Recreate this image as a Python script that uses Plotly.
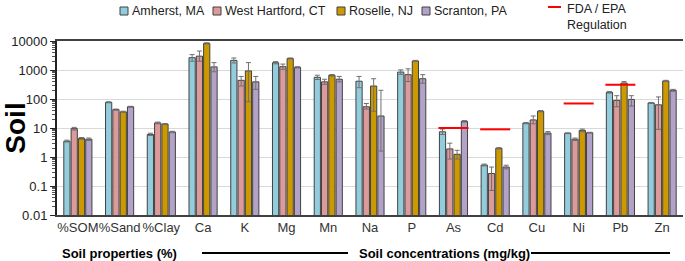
import plotly.graph_objects as go

cats = ["%SOM", "%Sand", "%Clay", "Ca", "K", "Mg", "Mn", "Na", "P", "As", "Cd", "Cu", "Ni", "Pb", "Zn"]

amherst = [3.5, 77, 6.0, 2650, 2150, 1780, 560, 410, 850, 7.4, 0.53, 14.8, 6.6, 170, 73]
amherst_hi = [3.8, 80, 6.6, 3400, 2600, 1950, 660, 600, 1010, 9.2, 0.57, 15.5, 6.8, 180, 76]
amherst_lo = [3.3, 74, 5.5, 2000, 1750, 1630, 470, 245, 710, 6.0, 0.49, 14, 6.4, 160, 70]

west_hartford = [9.5, 43, 15, 3000, 440, 1300, 390, 54, 690, 1.9, 0.27, 19, 4.1, 90, 63]
west_hartford_hi = [10.5, 45, 16, 4500, 600, 1600, 480, 70, 1100, 3.0, 0.45, 26, 4.5, 130, 118]
west_hartford_lo = [8.5, 41, 14, 2000, 280, 1050, 320, 45, 400, 0.85, 0.07, 14, 3.7, 54, 9]

roselle = [4.4, 36, 13.7, 8300, 930, 2500, 660, 280, 2050, 1.24, 2.0, 38, 8.3, 355, 420]
roselle_hi = [4.7, 38, 14.3, 8700, 1800, 2600, 700, 500, 2150, 1.7, 2.1, 40, 9.2, 400, 440]
roselle_lo = [4.1, 34, 13.1, 7900, 80, 2400, 620, 38, 1950, 0.85, 1.9, 36, 7.4, 320, 400]

scranton = [4.1, 54, 7.3, 1280, 390, 1240, 480, 26, 500, 17, 0.45, 6.7, 6.9, 97, 200]
scranton_hi = [4.5, 56, 7.7, 1800, 600, 1300, 600, 200, 690, 18, 0.52, 7.5, 7.1, 130, 215]
scranton_lo = [3.7, 52, 6.9, 870, 215, 1180, 390, 1.6, 350, 16, 0.39, 5.9, 6.7, 57, 185]

regulation = [None, None, None, None, None, None, None, None, None, 10, 9, None, 70, 310, None]

series_names = ["Amherst, MA", "West Hartford, CT", "Roselle, NJ", "Scranton, PA"]
reg_name = "FDA / EPA<br>Regulation"
colors = ["#93CDDD", "#DD9A9A", "#CC9900", "#B3A2C7"]

W, H = 685, 261
ML, MR, MT, MB = 57, 2, 41, 46
PW, PH = W - ML - MR, H - MT - MB


def px(x):
    return (x - ML) / PW


def py(y):
    return (H - MB - y) / PH


series = [
    (series_names[0], amherst, amherst_hi, amherst_lo, colors[0]),
    (series_names[1], west_hartford, west_hartford_hi, west_hartford_lo, colors[1]),
    (series_names[2], roselle, roselle_hi, roselle_lo, colors[2]),
    (series_names[3], scranton, scranton_hi, scranton_lo, colors[3]),
]

xi = list(range(len(cats)))
fig = go.Figure()
for name, v, hi, lo, col in series:
    fig.add_trace(go.Bar(
        x=xi, y=v, name=name, showlegend=False,
        marker=dict(color=col, line=dict(color="#404040", width=1)),
        error_y=dict(type="data", symmetric=False,
                     array=[h - a for h, a in zip(hi, v)],
                     arrayminus=[a - l for a, l in zip(v, lo)],
                     color="#707070", thickness=1, width=2.5),
    ))

rx, ry = [], []
for i, r in enumerate(regulation):
    if r is not None:
        rx += [i - 0.36, i + 0.36, None]
        ry += [r, r, None]
fig.add_trace(go.Scatter(x=rx, y=ry, mode="lines", name=reg_name, showlegend=False,
                         line=dict(color="#FF0000", width=2)))

fig.update_layout(
    width=W, height=H,
    margin=dict(l=ML, r=MR, t=MT, b=MB, autoexpand=False),
    paper_bgcolor="white", plot_bgcolor="white",
    font=dict(family="Liberation Sans, Arial, sans-serif", size=13, color="#222222"),
    barmode="group", bargap=0.3, bargroupgap=0.15,
    showlegend=False,
    xaxis=dict(range=[-0.5, len(cats) - 0.5], tickmode="array", tickvals=xi, ticktext=cats,
               tickangle=0, automargin=False,
               showgrid=False, showline=True, linecolor="#404040", linewidth=1.5,
               mirror=True, ticks="", tickfont=dict(size=13, color="#333333")),
    yaxis=dict(type="log", range=[-2, 4], tickmode="linear", tick0=0, dtick=1,
               tickformat="~g",
               automargin=False,
               showgrid=True, gridcolor="#D9D9D9", gridwidth=1,
               showline=True, linecolor="#222222", linewidth=2, ticks="outside", ticklen=5,
               tickcolor="#222222",
               minor=dict(ticks="outside", ticklen=3, tickcolor="#555555", dtick="D1", showgrid=False),
               tickfont=dict(size=13, color="#222222"),
               title=dict(text="<b>Soil</b>", font=dict(size=28, color="black"), standoff=6)),
)

# legend (drawn manually to match compact layout)
marker_x = [120, 213, 337, 422]
leg_y = 11
for name, col, mx in zip(series_names, colors, marker_x):
    fig.add_shape(type="rect", xref="paper", yref="paper",
                  x0=px(mx), x1=px(mx + 8), y0=py(leg_y + 4), y1=py(leg_y - 4),
                  fillcolor=col, line=dict(color="#404040", width=1))
    fig.add_annotation(text=name, xref="paper", yref="paper", x=px(mx + 10), y=py(leg_y),
                       xanchor="left", yanchor="middle", showarrow=False,
                       font=dict(size=12.5, color="#222222"))
fig.add_shape(type="line", xref="paper", yref="paper", x0=px(548), x1=px(561), y0=py(7), y1=py(7),
              line=dict(color="#FF0000", width=2))
fig.add_annotation(text=reg_name, xref="paper", yref="paper", x=px(565), y=py(0),
                   xanchor="left", yanchor="top", align="left", showarrow=False,
                   font=dict(size=12.5, color="#222222"))

fig.add_annotation(text="<b>Soil properties (%)</b>", xref="paper", yref="paper",
                   x=px(119), y=py(253), xanchor="center", yanchor="middle",
                   showarrow=False, font=dict(size=13, color="black"))
fig.add_annotation(text="<b>Soil concentrations (mg/kg)</b>", xref="paper", yref="paper",
                   x=px(445), y=py(253), xanchor="center", yanchor="middle",
                   showarrow=False, font=dict(size=13, color="black"))
fig.add_shape(type="line", xref="paper", yref="paper", x0=px(202), x1=px(348), y0=py(253), y1=py(253),
              line=dict(color="black", width=2))
fig.add_shape(type="line", xref="paper", yref="paper", x0=px(531), x1=px(670), y0=py(253), y1=py(253),
              line=dict(color="black", width=2))

fig.write_html("out.html")
